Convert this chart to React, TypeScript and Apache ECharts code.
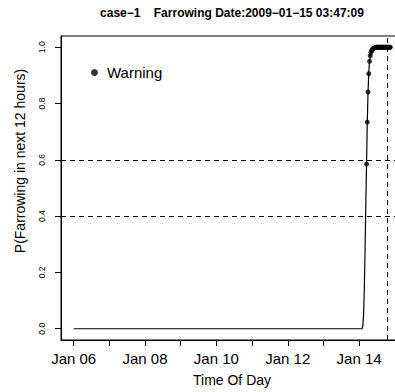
import React, { useEffect, useRef } from "react";
import * as echarts from "echarts";

// Predicted probability of farrowing within the next 12 hours (30-min steps near the rise)
const times: string[] = [
  "2009-01-06T00:00:00Z",
  "2009-01-14T02:00:00Z",
  "2009-01-14T02:30:00Z",
  "2009-01-14T03:00:00Z",
  "2009-01-14T03:30:00Z",
  "2009-01-14T04:00:00Z",
  "2009-01-14T04:30:00Z",
  "2009-01-14T05:00:00Z",
  "2009-01-14T05:30:00Z",
  "2009-01-14T06:00:00Z",
  "2009-01-14T06:30:00Z",
  "2009-01-14T07:00:00Z",
  "2009-01-14T07:30:00Z",
  "2009-01-14T08:00:00Z",
  "2009-01-14T08:30:00Z",
  "2009-01-14T09:00:00Z",
  "2009-01-14T09:30:00Z",
  "2009-01-14T10:00:00Z",
  "2009-01-14T10:30:00Z",
  "2009-01-14T11:00:00Z",
  "2009-01-14T11:30:00Z",
  "2009-01-14T12:00:00Z",
  "2009-01-14T12:30:00Z",
  "2009-01-14T13:00:00Z",
  "2009-01-14T13:30:00Z",
  "2009-01-14T14:00:00Z",
  "2009-01-14T14:30:00Z",
  "2009-01-14T15:00:00Z",
  "2009-01-14T15:30:00Z",
  "2009-01-14T16:00:00Z",
  "2009-01-14T16:30:00Z",
  "2009-01-14T17:00:00Z",
  "2009-01-14T17:30:00Z",
  "2009-01-14T18:00:00Z",
  "2009-01-14T18:30:00Z",
  "2009-01-14T19:00:00Z",
  "2009-01-14T19:30:00Z",
  "2009-01-14T20:00:00Z",
  "2009-01-14T20:30:00Z",
  "2009-01-14T21:00:00Z",
];
const probs: number[] = [
  0, 0, 0.01, 0.05, 0.14, 0.28, 0.44, 0.585, 0.734, 0.841, 0.906, 0.95, 0.97,
  0.982, 0.989, 0.993, 0.996, 0.997, 0.998, 0.999, 1, 1, 1, 1, 1, 1, 1, 1, 1, 1,
  1, 1, 1, 1, 1, 1, 1, 1, 1, 1,
];

const warningLevel = 0.5;
const thresholds: number[] = [0.4, 0.6];
const farrowingStamp = "2009-01-15 03:47:09";
const farrowingTime = "2009-01-15T03:47:09+09:00";
const caseName = "case\u22121";
const xTitle = "Time Of Day";
const yTitle = "P(Farrowing in next 12 hours)";

const dayTicks: string[] = [
  "2009-01-06", "2009-01-07", "2009-01-08", "2009-01-09", "2009-01-10",
  "2009-01-11", "2009-01-12", "2009-01-13", "2009-01-14",
];
const dayLabels: string[] = ["2009-01-06", "2009-01-08", "2009-01-10", "2009-01-12", "2009-01-14"];
const yTicks: number[] = [0, 0.2, 0.4, 0.6, 0.8, 1.0];

const FONT = '"Liberation Sans", Arial, Helvetica, sans-serif';
const MONTHS = ["Jan", "Feb", "Mar", "Apr", "May", "Jun", "Jul", "Aug", "Sep", "Oct", "Nov", "Dec"];

function fmtDay(v: number): string {
  const d = new Date(v);
  return MONTHS[d.getUTCMonth()] + " " + String(d.getUTCDate()).padStart(2, "0");
}

export default function App() {
  const ref = useRef<HTMLDivElement>(null);

  useEffect(() => {
    if (!ref.current) return;
    const chart = echarts.init(ref.current, null, { renderer: "svg" });

    const ts = times.map((t) => Date.parse(t));
    const series = ts.map((t, i) => [t, probs[i]]);
    const warnings = series.filter((p) => p[1] >= warningLevel);
    const t0 = Math.min(...ts);
    const t1 = Math.max(...ts);
    const pad = (t1 - t0) * 0.04;
    const tickVals = dayTicks.map((d) => Date.parse(d + "T00:00:00Z"));
    const labelVals = dayLabels.map((d) => Date.parse(d + "T00:00:00Z"));
    const farrow = Date.parse(farrowingTime);

    const dash = { color: "#000", width: 1, type: [5, 4] as any };

    chart.setOption({
      animation: false,
      textStyle: { fontFamily: FONT },
      graphic: [
        {
          type: "text",
          x: 232,
          y: 13,
          style: {
            text: caseName + "    Farrowing Date:" + farrowingStamp.replace(/-/g, "\u2212"),
            font: "bold 12px " + FONT,
            fill: "#000",
            align: "center",
            verticalAlign: "middle",
          },
        },
        {
          type: "text",
          x: 20,
          y: 161,
          rotation: Math.PI / 2,
          style: {
            text: yTitle,
            font: "14px " + FONT,
            fill: "#000",
            align: "center",
            verticalAlign: "middle",
          },
        },
      ],
      legend: {
        left: 86,
        top: 60,
        icon: "circle",
        itemWidth: 7,
        itemHeight: 7,
        itemGap: 0,
        textStyle: { fontSize: 15, color: "#000", fontFamily: FONT, padding: [0, 0, 0, 4] },
        data: ["Warning"],
      },
      grid: {
        left: 61,
        top: 36,
        width: 342,
        height: 305,
        show: true,
        borderColor: "#000",
        borderWidth: 1,
        backgroundColor: "transparent",
      },
      xAxis: {
        type: "value",
        min: t0 - pad,
        max: t1 + pad,
        name: xTitle,
        nameLocation: "middle",
        nameGap: 33,
        nameTextStyle: { fontSize: 14, color: "#000", fontFamily: FONT },
        splitLine: { show: false },
        axisLine: { show: true, onZero: false, lineStyle: { color: "#000", width: 1 } },
        axisTick: { show: true, length: 6, customValues: tickVals, lineStyle: { color: "#000" } },
        axisLabel: {
          customValues: labelVals,
          formatter: (v: number) => fmtDay(v),
          fontSize: 15,
          color: "#000",
          margin: 11,
          fontFamily: FONT,
        },
      },
      yAxis: {
        type: "value",
        min: -0.04,
        max: 1.04,
        splitLine: { show: false },
        axisLine: { show: true, onZero: false, lineStyle: { color: "#000", width: 1 } },
        axisTick: { show: true, length: 6, customValues: yTicks, lineStyle: { color: "#000" } },
        axisLabel: {
          customValues: yTicks,
          formatter: (v: number) => v.toFixed(1),
          rotate: 90,
          fontSize: 8.5,
          color: "#000",
          margin: 15,
          fontFamily: FONT,
        },
      },
      series: [
        {
          type: "line",
          name: "P",
          data: series,
          showSymbol: false,
          lineStyle: { color: "#000", width: 1.2 },
          markLine: {
            silent: true,
            symbol: "none",
            label: { show: false },
            lineStyle: dash,
            data: [
              ...thresholds.map((y) => ({ yAxis: y })),
              { xAxis: farrow },
            ],
          },
          z: 2,
        },
        {
          type: "scatter",
          name: "Warning",
          data: warnings,
          symbol: "circle",
          symbolSize: 5,
          itemStyle: { color: "#000" },
          z: 3,
        },
      ],
    });

    return () => chart.dispose();
  }, []);

  return (
    <div
      style={{
        position: "fixed",
        left: 0,
        top: 0,
        width: 395,
        height: 392,
        overflow: "hidden",
        background: "#fff",
      }}
    >
      <div ref={ref} style={{ width: 420, height: 392 }} />
    </div>
  );
}
